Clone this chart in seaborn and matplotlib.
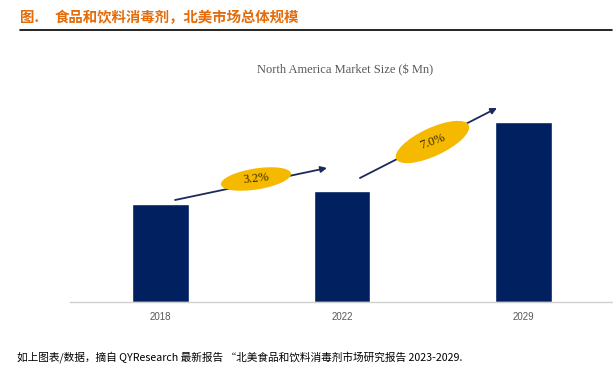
import matplotlib
matplotlib.use('Agg')
import matplotlib.pyplot as plt
import seaborn as sns
import pandas as pd
from matplotlib.patches import Ellipse
from matplotlib.transforms import IdentityTransform
from matplotlib.lines import Line2D

# ---- data ----
years = ['2018', '2022', '2029']
market_size = [98, 111, 180]
cagr_labels = ['3.2%', '7.0%']
fig_title_tag = '图.'
fig_title = '食品和饮料消毒剂，北美市场总体规模'
chart_title = 'North America Market Size ($ Mn)'
footer = '如上图表/数据，摘自 QYResearch 最新报告 “北美食品和饮料消毒剂市场研究报告 2023-2029.'

sns.set_theme(style='white')
plt.rcParams['font.family'] = ['Noto Sans CJK SC', 'DejaVu Sans']

W, H = 613, 381
fig = plt.figure(figsize=(W / 100, H / 100), dpi=100)
fig.patch.set_facecolor('white')

def fx(x):
    return x / W

def fy(y):
    return 1 - y / H

ax = fig.add_axes([fx(70), fy(302), 542 / W, 200 / H])
df = pd.DataFrame({'year': years, 'size': market_size})
sns.barplot(data=df, x='year', y='size', color='#002060', width=0.314,
            saturation=1, ax=ax, zorder=2)
ax.set_xlim(-0.499, 2.488)
ax.set_ylim(0, 200)
ax.set_xlabel('')
ax.set_ylabel('')
ax.set_yticks([])
for s in ['left', 'right', 'top']:
    ax.spines[s].set_visible(False)
ax.spines['bottom'].set_color('#D0D0D0')
ax.spines['bottom'].set_linewidth(1.0)
ax.tick_params(axis='x', length=0, pad=7, labelsize=7, labelcolor='#595959')
for t in ax.get_xticklabels():
    t.set_fontfamily(['Liberation Sans', 'DejaVu Sans'])
ax.set_facecolor('none')
ax.grid(False)

# ---- CAGR arrows with ellipse labels ----
arrow_style = [
    dict(s=(0.08, 4), e=(-0.083, 23), w=71, h=21, ang=9, tang=6, off=(5, 5)),
    dict(s=(0.099, 13), e=(-0.146, 14), w=80, h=28, ang=25, tang=20, off=(4, 1)),
]
fig.canvas.draw()
for i, st in enumerate(arrow_style):
    x0, y0 = i + st['s'][0], market_size[i] + st['s'][1]
    x1, y1 = i + 1 + st['e'][0], market_size[i + 1] + st['e'][1]
    ax.annotate('', xy=(x1, y1), xytext=(x0, y0),
                arrowprops=dict(arrowstyle='-|>', color='#1B2A5A', lw=1.3,
                                mutation_scale=9, shrinkA=0, shrinkB=0),
                zorder=3, annotation_clip=False)
    p0 = ax.transData.transform((x0, y0))
    p1 = ax.transData.transform((x1, y1))
    cx = (p0[0] + p1[0]) / 2 + st['off'][0]
    cy = (p0[1] + p1[1]) / 2 + st['off'][1]
    el = Ellipse((cx, cy), st['w'], st['h'], angle=st['ang'],
                 transform=IdentityTransform(), facecolor='#F5BA00',
                 edgecolor='none', zorder=4)
    fig.add_artist(el)
    fig.text(cx / W, cy / H, cagr_labels[i], ha='center', va='center',
             rotation=st['tang'], fontsize=9, color='#3A2A00',
             family=['Liberation Serif', 'DejaVu Serif'], zorder=5)

# ---- titles and texts ----
fig.text(fx(20), fy(18), fig_title_tag, ha='left', va='center', fontsize=10.4,
         fontweight='bold', color='#E46C0A')
fig.text(fx(55), fy(18), fig_title, ha='left', va='center', fontsize=10.4,
         fontweight='bold', color='#E46C0A')
fig.add_artist(Line2D([fx(20), fx(612)], [fy(30), fy(30)], color='black',
                      lw=1.2, transform=fig.transFigure))
fig.text(fx(345), fy(70), chart_title, ha='center', va='center', fontsize=9,
         color='#595959', family=['Liberation Serif', 'DejaVu Serif'])
fig.text(fx(17), fy(357), footer, ha='left', va='center', fontsize=7.7,
         color='black', style='italic')

fig.savefig('out.png', dpi=100, facecolor='white')
